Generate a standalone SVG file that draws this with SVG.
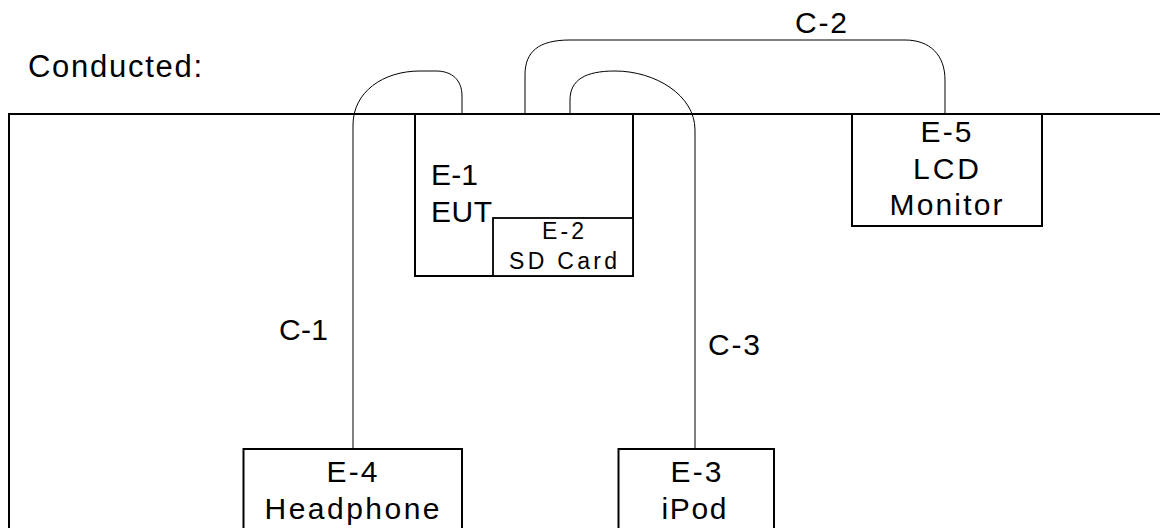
<svg xmlns="http://www.w3.org/2000/svg" width="1160" height="528" viewBox="0 0 1160 528">
<style>
.box{fill:#fff;stroke:#000;stroke-width:2}
.sub{fill:#fff;stroke:#000;stroke-width:1.8}
.frame{fill:none;stroke:#000;stroke-width:2}
.cable{fill:none;stroke:#000;stroke-width:1}
text{font-family:"Liberation Sans",Arial,sans-serif;fill:#000;font-size:30px}
.c{text-anchor:middle}
.small{font-size:23px}
</style>
<rect x="0" y="0" width="1160" height="528" fill="#fff"/>
<g id="title"><text x="28" y="77" style="font-size:31px" textLength="174" lengthAdjust="spacing">Conducted:</text></g>
<g id="table"><path class="frame" d="M9 529 V114 H1161"/></g>
<g id="connectors">
<path id="c1" class="cable" d="M353 449 L353 125 C353 92 383 71 420 71 L436 71 C452 71 462 80 462 96 L462 114"/>
<path id="c2" class="cable" d="M525 114 L525 75 C525 52 538 40 570 40 L905 40 C930 40 945 55 945 80 L945 114"/>
<path id="c3" class="cable" d="M570 114 L570 100 C570 80 585 71 615 71 C655 71 695 95 695 130 L695 449"/>
<text x="279" y="340" textLength="49" lengthAdjust="spacing">C-1</text>
<text x="795" y="33" textLength="52" lengthAdjust="spacing">C-2</text>
<text x="708" y="355" textLength="52" lengthAdjust="spacing">C-3</text>
</g>
<g id="e1">
<rect class="box" x="415" y="114" width="218" height="162"/>
<text x="431" y="185" textLength="47" lengthAdjust="spacing">E-1</text>
<text x="431" y="222" textLength="61" lengthAdjust="spacing">EUT</text>
</g>
<g id="e2">
<rect class="sub" x="493" y="218" width="140" height="58"/>
<text class="c small" x="563" y="239" textLength="42" lengthAdjust="spacing">E-2</text>
<text class="c small" x="563" y="269" textLength="108" lengthAdjust="spacing">SD Card</text>
</g>
<g id="e5">
<rect class="box" x="852" y="114" width="190" height="112"/>
<text class="c" x="946" y="142" textLength="51" lengthAdjust="spacing">E-5</text>
<text class="c" x="946" y="179" textLength="66" lengthAdjust="spacing">LCD</text>
<text class="c" x="946" y="215" textLength="113" lengthAdjust="spacing">Monitor</text>
</g>
<g id="e4">
<rect class="box" x="243.5" y="449" width="218.5" height="100"/>
<text class="c" x="352" y="482" textLength="51" lengthAdjust="spacing">E-4</text>
<text class="c" x="352" y="519" textLength="175" lengthAdjust="spacing">Headphone</text>
</g>
<g id="e3">
<rect class="box" x="618.5" y="449" width="155.5" height="100"/>
<text class="c" x="696" y="482" textLength="51" lengthAdjust="spacing">E-3</text>
<text class="c" x="694" y="519" textLength="65" lengthAdjust="spacing">iPod</text>
</g>
</svg>
